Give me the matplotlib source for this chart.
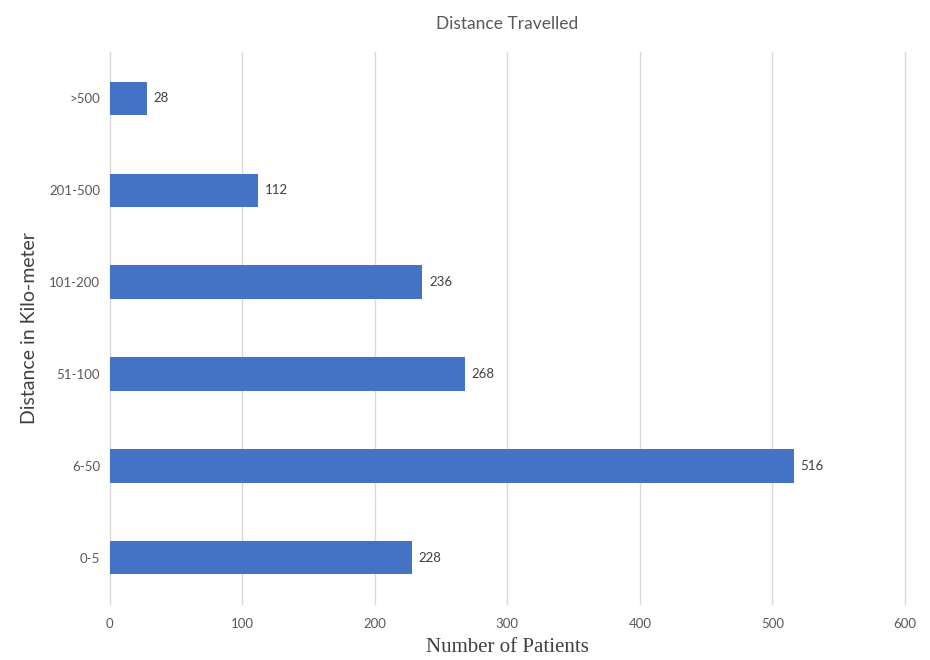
import matplotlib
import matplotlib.pyplot as plt

matplotlib.use('Agg')

# Patients by distance travelled
categories = ['0-5', '6-50', '51-100', '101-200', '201-500', '>500']
patients = [228, 516, 268, 236, 112, 28]
x_ticks = [0, 100, 200, 300, 400, 500, 600]

bar_color = '#4472C4'
text_color = '#595959'
grid_color = '#D9D9D9'

fig = plt.figure(figsize=(9.3, 6.6), dpi=100)
ax = fig.add_axes([0.118, 0.085, 0.855, 0.836])

bars = ax.barh(categories, patients, height=0.36, color=bar_color, zorder=3)

# value labels just past each bar end
for rect, val in zip(bars, patients):
    ax.text(rect.get_width() + 5, rect.get_y() + rect.get_height() / 2, str(val),
            va='center', ha='left', fontsize=9.5, color='#404040', family='Lato')

ax.set_xlim(0, 600)
ax.set_ylim(-0.5, len(categories) - 0.5)
ax.set_xticks(x_ticks)
ax.xaxis.grid(True, color=grid_color, linewidth=1, zorder=0)
for gl in ax.get_xgridlines():
    gl.set_clip_on(False)
ax.tick_params(length=0, labelsize=9.5, labelcolor=text_color)
ax.tick_params(axis='y', pad=7)
ax.tick_params(axis='x', pad=10)
for lbl in ax.get_xticklabels() + ax.get_yticklabels():
    lbl.set_family('Lato')
for s in ax.spines.values():
    s.set_visible(False)

ax.set_title('Distance Travelled', fontsize=12.5, color=text_color, family='Lato', pad=17)
ax.set_xlabel('Number of Patients', fontsize=15, color='#404040', family='Liberation Serif', labelpad=6)
ax.set_ylabel('Distance in Kilo-meter', fontsize=14, color='#404040', family='Lato', labelpad=8)

fig.savefig('out.png', dpi=100, facecolor='white')
